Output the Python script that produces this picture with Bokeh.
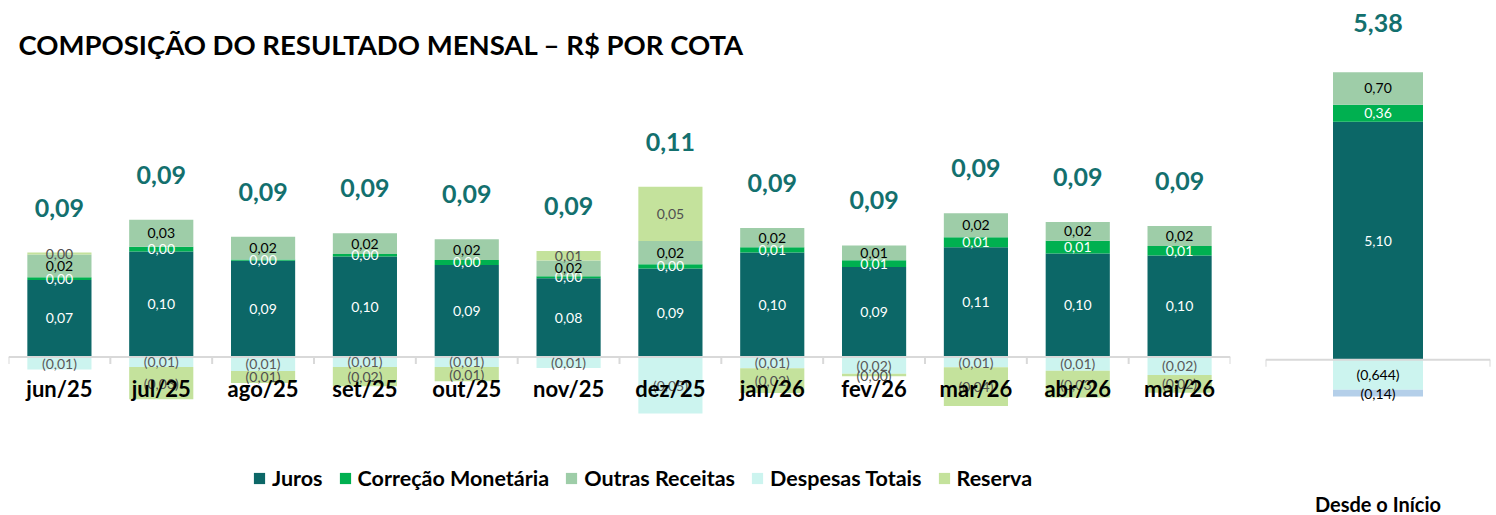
from bokeh.plotting import figure
from bokeh.models import ColumnDataSource, Range1d, FactorRange, Legend, LegendItem, Label
from bokeh.layouts import row
from bokeh.embed import file_html
from bokeh.resources import INLINE
from bokeh.core.properties import value

# ---------------- data ----------------
months = ["jun/25", "jul/25", "ago/25", "set/25", "out/25", "nov/25",
          "dez/25", "jan/26", "fev/26", "mar/26", "abr/26", "mai/26"]
juros = [0.0745, 0.102, 0.093, 0.097, 0.089, 0.076, 0.0855, 0.101, 0.087, 0.106, 0.100, 0.098]
correcao = [0.0025, 0.0045, 0.0013, 0.0026, 0.0048, 0.0019, 0.0041, 0.0051, 0.0064, 0.0096, 0.0122, 0.0093]
outras = [0.022, 0.026, 0.022, 0.020, 0.020, 0.0154, 0.0224, 0.0186, 0.0144, 0.0234, 0.0183, 0.0192]
despesas = [-0.0121, -0.0096, -0.0135, -0.0096, -0.0096, -0.0106, -0.0545, -0.0109, -0.0163, -0.0099, -0.0132, -0.0173]
reserva = [0.0019, -0.0313, -0.0115, -0.0186, -0.0138, 0.009, 0.0526, -0.024, -0.0023, -0.0375, -0.026, -0.0173]
resultado = [0.09, 0.09, 0.09, 0.09, 0.09, 0.09, 0.11, 0.09, 0.09, 0.09, 0.09, 0.09]

acum_cat = ["Desde o Início"]
acum_juros = [5.10]
acum_correcao = [0.36]
acum_outras = [0.70]
acum_despesas = [-0.644]
acum_outros = [-0.14]
acum_resultado = [5.38]

series_names = ["Juros", "Correção Monetária", "Outras Receitas", "Despesas Totais", "Reserva"]

# ---------------- styles ----------------
FONT = "Lato"
C_JUROS = "#0C6767"
C_CORR = "#00B050"
C_OUTRAS = "#9ECDA8"
C_DESP = "#CCF4EF"
C_RES = "#C4E29C"
C_OUTROS = "#B4CFE9"
C_TOTAL = "#13706E"
AXIS_C = "#D9D9D9"


def fmt(v, nd=2):
    s = f"{abs(v):.{nd}f}".replace(".", ",")
    return f"({s})" if v < 0 else s


# ---------------- main figure ----------------
S = 1035.0  # px per unit
BASE = 356.5
H = 515
p = figure(width=1255, height=H, x_range=FactorRange(*months, range_padding=0),
           y_range=Range1d(-(H - BASE) / S, BASE / S),
           x_axis_location=None, y_axis_location=None,
           toolbar_location=None, output_backend="svg",
           min_border_left=8, min_border_right=25, min_border_top=0, min_border_bottom=0)
p.grid.visible = False
p.outline_line_color = None

n = len(months)

up = [0.0] * n
dn = [0.0] * n
segs = {}
for nm, vals in [("Juros", juros), ("Correção Monetária", correcao), ("Outras Receitas", outras)]:
    b = up[:]
    t = [up[i] + vals[i] for i in range(n)]
    up = t[:]
    segs[nm] = (b, t)
b = dn[:]
t = [dn[i] + despesas[i] for i in range(n)]
dn = t[:]
segs["Despesas Totais"] = (t, b)
rb, rt = [], []
for i in range(n):
    if reserva[i] >= 0:
        rb.append(up[i]); rt.append(up[i] + reserva[i]); up[i] += reserva[i]
    else:
        rt.append(dn[i]); rb.append(dn[i] + reserva[i]); dn[i] += reserva[i]
segs["Reserva"] = (rb, rt)

vals_map = {"Juros": juros, "Correção Monetária": correcao, "Outras Receitas": outras,
            "Despesas Totais": despesas, "Reserva": reserva}
col_map = {"Juros": C_JUROS, "Correção Monetária": C_CORR, "Outras Receitas": C_OUTRAS,
           "Despesas Totais": C_DESP, "Reserva": C_RES}
labc_map = {"Juros": "white", "Correção Monetária": "white", "Outras Receitas": "black",
            "Despesas Totais": "#595959", "Reserva": "#505050"}

renderers = {}
for nm in ["Juros", "Correção Monetária", "Outras Receitas", "Despesas Totais", "Reserva"]:
    b, t = segs[nm]
    src = ColumnDataSource(dict(x=months, bottom=b, top=t,
                                mid=[(b[i] + t[i]) / 2 for i in range(n)],
                                lab=[fmt(v) for v in vals_map[nm]]))
    r = p.vbar(x="x", bottom="bottom", top="top", width=0.63, source=src,
               fill_color=col_map[nm], line_color=col_map[nm], line_width=0)
    renderers[nm] = (r, src)

# axis line with ticks at category boundaries
p.segment(x0=[0], y0=[0], x1=[n], y1=[0], line_color=AXIS_C, line_width=2)
tick_len = 7 / S
p.segment(x0=list(range(n + 1)), y0=[0] * (n + 1), x1=list(range(n + 1)),
          y1=[-tick_len] * (n + 1), line_color=AXIS_C, line_width=2)

# segment labels
for nm in ["Juros", "Correção Monetária", "Outras Receitas", "Despesas Totais", "Reserva"]:
    r, src = renderers[nm]
    p.text(x="x", y="mid", text="lab", source=src, text_align="center", text_baseline="middle",
           text_font=value(FONT), text_font_size="14px", text_color=labc_map[nm])

# month labels
p.text(x=months, y=[0] * n, text=months, y_offset=31, text_align="center", text_baseline="middle",
       text_font=value(FONT), text_font_size="22px", text_font_style="bold", text_color="black")

# totals
p.text(x=months, y=up, text=[fmt(v) for v in resultado], y_offset=-45, text_align="center",
       text_baseline="middle", text_font=value(FONT), text_font_size="25px",
       text_font_style="bold", text_color=C_TOTAL)

# title
p.add_layout(Label(x=10, y=H - 44, x_units="screen", y_units="screen",
                   text="COMPOSIÇÃO DO RESULTADO MENSAL – R$ POR COTA",
                   text_font=FONT, text_font_size="27.5px", text_font_style="bold",
                   text_color="black", text_baseline="middle"))

legend = Legend(items=[LegendItem(label=nm, renderers=[renderers[nm][0]]) for nm in series_names],
                orientation="horizontal", location=(244, 24),
                label_text_font=FONT, label_text_font_size="21.5px", label_text_font_style="bold",
                label_text_color="black", glyph_width=14, glyph_height=14, label_standoff=6,
                spacing=15, padding=0, margin=0, border_line_color=None,
                background_fill_alpha=0, label_height=20)
p.add_layout(legend)

# ---------------- right figure ----------------
S2 = 46.7
BASE2 = 359.3
q = figure(width=241, height=H, x_range=FactorRange(*acum_cat, range_padding=0),
           y_range=Range1d(-(H - BASE2) / S2, BASE2 / S2),
           x_axis_location=None, y_axis_location=None,
           toolbar_location=None, output_backend="svg",
           min_border_left=10, min_border_right=6, min_border_top=0, min_border_bottom=0)
q.grid.visible = False
q.outline_line_color = None

up2 = 0.0
dn2 = 0.0
for vals, col, lc, nd in [(acum_juros, C_JUROS, "white", 2), (acum_correcao, C_CORR, "white", 2),
                          (acum_outras, C_OUTRAS, "black", 2), (acum_despesas, C_DESP, "black", 3),
                          (acum_outros, C_OUTROS, "black", 2)]:
    v = vals[0]
    if v >= 0:
        b, t = up2, up2 + v
        up2 += v
    else:
        b, t = dn2 + v, dn2
        dn2 += v
    src = ColumnDataSource(dict(x=acum_cat, bottom=[b], top=[t], mid=[(b + t) / 2], lab=[fmt(v, nd)]))
    q.vbar(x="x", bottom="bottom", top="top", width=0.4, source=src,
           fill_color=col, line_color=col, line_width=0)
    q.text(x="x", y="mid", text="lab", source=src, text_align="center", text_baseline="middle",
           text_font=value(FONT), text_font_size="14px", text_color=lc)

q.segment(x0=[0], y0=[0], x1=[1], y1=[0], line_color=AXIS_C, line_width=2)
q.segment(x0=[0, 1], y0=[0, 0], x1=[0, 1], y1=[-7 / S2] * 2, line_color=AXIS_C, line_width=2)

q.text(x=acum_cat, y=[up2], text=[fmt(v) for v in acum_resultado], y_offset=-49,
       text_align="center", text_baseline="middle", text_font=value(FONT), text_font_size="25px",
       text_font_style="bold", text_color=C_TOTAL)
q.text(x=acum_cat, y=[0], text=acum_cat, y_offset=144, text_align="center", text_baseline="middle",
       text_font=value(FONT), text_font_size="20px", text_font_style="bold", text_color="black")

layout = row(p, q, spacing=0)
open("out.html", "w").write(file_html(layout, INLINE))
